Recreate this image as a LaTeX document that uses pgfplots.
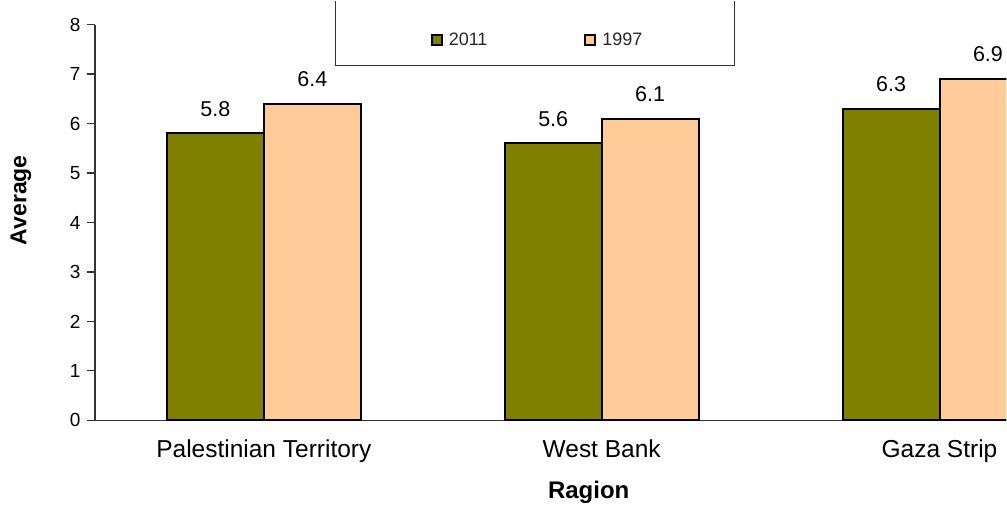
\documentclass[border=0pt]{standalone}
\usepackage{fontspec}
\setmainfont{Liberation Sans}
\usepackage{pgfplots}
\pgfplotsset{compat=1.18}
\definecolor{olivebar}{HTML}{808000}
\definecolor{peachbar}{HTML}{FFCC99}
\begin{document}
\begin{tikzpicture}
\path (-95pt,-84pt) rectangle (912pt,420pt);
\begin{axis}[
  at={(0,0)}, anchor=south west,
  scale only axis, width=912pt, height=396pt,
  ybar=0pt, bar width=97pt,
  xmin=-0.5, xmax=2.198,
  ymin=0, ymax=8,
  ytick={0,1,2,3,4,5,6,7,8},
  xtick={0,1,2},
  xticklabels={Palestinian Territory, West Bank, Gaza Strip},
  major x tick style={draw=none},
  extra x ticks={-0.5,0.5,1.5},
  extra x tick labels={},
  extra x tick style={major tick length=7pt},
  axis x line*=bottom, axis y line*=left,
  axis line style={line width=1.2pt, black!80},
  tick style={line width=1.2pt, black!80},
  tick align=outside,
  major tick length=8pt,
  /pgf/number format/assume math mode=true,
  ticklabel style={font=\fontsize{19}{21}\selectfont},
  yticklabel style={xshift=-3pt},
  xticklabel style={font=\fontsize{24.5}{27}\selectfont, yshift=-8pt},
  xlabel={Ragion},
  ylabel={Average},
  xlabel style={font=\fontsize{24}{27}\selectfont\bfseries, at={(axis description cs:0.5417,-0.1818)}, anchor=center},
  ylabel style={font=\fontsize{23}{26}\selectfont\bfseries, at={(axis description cs:-0.0812,0.556)}, anchor=center, rotate=0},
  nodes near coords,
  nodes near coords style={font=\fontsize{21.5}{24}\selectfont, anchor=south, inner sep=0pt, yshift=16pt, /pgf/number format/fixed, /pgf/number format/precision=1, /pgf/number format/assume math mode=true},
  legend columns=2,
  legend style={draw=none, fill=none, at={(axis description cs:0.4857,0.9621)}, anchor=center, font=\fontsize{18}{20}\selectfont, text=black!85, /tikz/every odd column/.append style={column sep=4pt}, /tikz/every even column/.append style={column sep=95pt}},
  legend image code/.code={\draw[#1, line width=2pt, draw=black] (0pt,-5pt) rectangle (10pt,5pt);},
]
\addplot[fill=olivebar, draw=black, line width=2pt] coordinates {(0,5.8) (1,5.6) (2,6.3)};
\addplot[fill=peachbar, draw=black, line width=2pt] coordinates {(0,6.4) (1,6.1) (2,6.9)};
\legend{2011,1997}
\end{axis}
\draw[line width=1.2pt, black!80] (241pt,420pt) |- (640pt,355pt) -- (640pt,420pt);
\end{tikzpicture}
\end{document}
